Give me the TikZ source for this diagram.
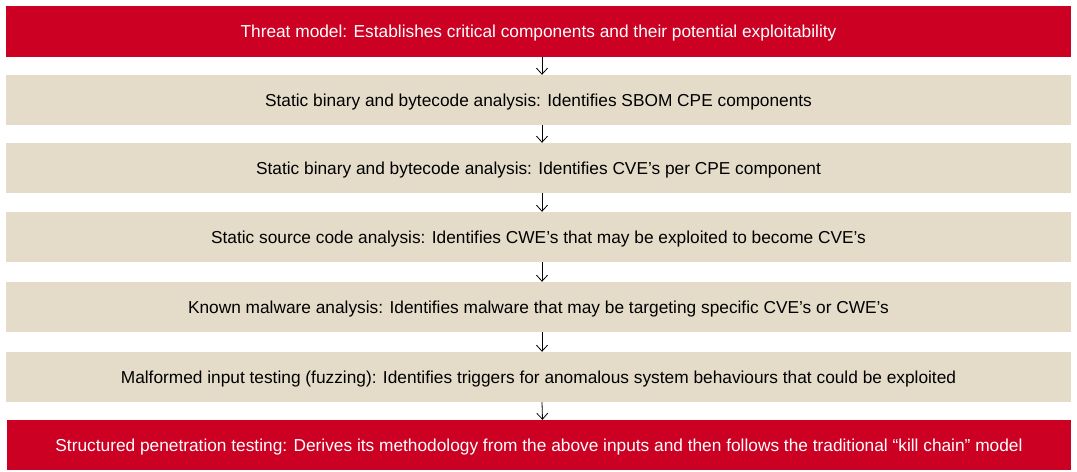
\documentclass[tikz,border=0pt]{standalone}
\usepackage{fontspec}
\setmainfont{Liberation Sans}
\usetikzlibrary{arrows.meta}
\definecolor{boxred}{RGB}{204,0,34}
\definecolor{boxbeige}{RGB}{228,220,201}
\begin{document}
\begin{tikzpicture}[x=1bp,y=-1bp,
  redbox/.style={fill=boxred,text=white,minimum width=1065bp,minimum height=51bp,inner sep=0pt,text height=12.4bp,text depth=0pt,font=\fontsize{17.3bp}{20bp}\selectfont},
  beigebox/.style={fill=boxbeige,text=black,minimum width=1065bp,minimum height=50bp,inner sep=0pt,text height=12.4bp,text depth=0pt,font=\fontsize{17.3bp}{20bp}\selectfont},
  flowarrow/.style={draw=black,line width=0.8bp,-{Straight Barb[length=6bp,width=11bp,line width=0.8bp]}}]
\useasboundingbox (0,0) rectangle (1077,472);
\node[redbox] (b0) at (538.5,31.5) {Threat model: Establishes critical components and their potential exploitability};
\node[beigebox] (b1) at (538.5,100) {Static binary and bytecode analysis: Identifies SBOM CPE components};
\node[beigebox] (b2) at (538.5,168) {Static binary and bytecode analysis: Identifies CVE’s per CPE component};
\node[beigebox] (b3) at (538.5,237) {Static source code analysis: Identifies CWE’s that may be exploited to become CVE’s};
\node[beigebox] (b4) at (538.5,307) {Known malware analysis: Identifies malware that may be targeting specific CVE’s or CWE’s};
\node[beigebox] (b5) at (538.5,377) {Malformed input testing (fuzzing): Identifies triggers for anomalous system behaviours that could be exploited};
\node[redbox, minimum width=1064bp, minimum height=50bp] (b6) at (539,445) {Structured penetration testing: Derives its methodology from the above inputs and then follows the traditional “kill chain” model};
\foreach \a/\b in {b0/b1,b1/b2,b2/b3,b3/b4,b4/b5,b5/b6}{
  \draw[flowarrow] ([xshift=3.5bp]\a.south) -- ([xshift=3.5bp]\b.north);
}
\end{tikzpicture}
\end{document}
